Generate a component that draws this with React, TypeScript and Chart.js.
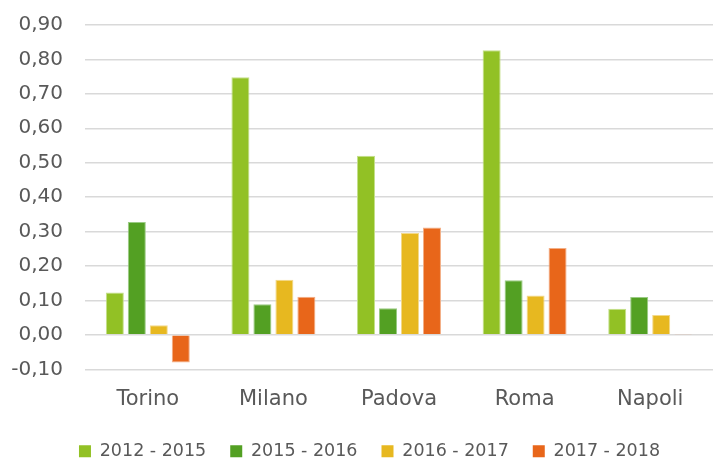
import React, { useEffect, useRef } from "react";
import { Chart, registerables } from "chart.js";

Chart.register(...registerables);

const categories = ["Torino", "Milano", "Padova", "Roma", "Napoli"];
const seriesLabels = ["2012 - 2015", "2015 - 2016", "2016 - 2017", "2017 - 2018"];
const s2012_2015 = [0.123, 0.748, 0.52, 0.827, 0.076];
const s2015_2016 = [0.328, 0.089, 0.077, 0.159, 0.11];
const s2016_2017 = [0.028, 0.16, 0.296, 0.114, 0.058];
const s2017_2018 = [-0.08, 0.111, 0.312, 0.252, 0.002];
const colors = ["#92C125", "#53A023", "#E7B820", "#E8661A"];
const borders = ["#C4E08A", "#9ACB84", "#F3D98A", "#F3AF86"];

export default function App() {
  const ref = useRef<HTMLCanvasElement>(null);
  useEffect(() => {
    document.body.style.margin = "0";
    const ctx = ref.current!;
    const font = "DejaVu Sans";
    const textColor = "#595959";
    const data = [s2012_2015, s2015_2016, s2016_2017, s2017_2018];
    const layoutTweak = {
      id: "layoutTweak",
      afterLayout(chart: any) {
        const lg = chart.legend;
        if (lg) {
          lg.top -= 12;
          lg.bottom -= 12;
          lg.left += 9;
          lg.right += 9;
        }
        const y = chart.scales.y;
        if (y) {
          y.left -= 9;
          y.right -= 9;
        }
      },
    };
    const chart = new Chart(ctx, {
      type: "bar",
      data: {
        labels: categories,
        datasets: data.map((d, i) => ({
          label: seriesLabels[i],
          data: d,
          backgroundColor: colors[i],
          borderColor: borders[i],
          borderWidth: 1,
          categoryPercentage: 0.7,
          barPercentage: 0.82,
        })),
      },
      plugins: [layoutTweak],
      options: {
        animation: false,
        responsive: false,
        layout: { padding: { top: 3, right: 0, left: 8, bottom: -22 } },
        plugins: {
          tooltip: { enabled: false },
          legend: {
            position: "bottom",
            labels: {
              boxWidth: 12,
              boxHeight: 12,
              padding: 24,
              color: textColor,
              font: { family: font, size: 17.5 },
              generateLabels: (c: any) =>
                seriesLabels.map((l, i) => ({
                  text: l,
                  fillStyle: colors[i],
                  strokeStyle: colors[i],
                  lineWidth: 0,
                  hidden: false,
                  datasetIndex: i,
                  fontColor: textColor,
                })),
            },
          },
        },
        scales: {
          x: {
            grid: { display: false, drawTicks: false },
            border: { display: false },
            ticks: { color: textColor, font: { family: font, size: 21 }, padding: 18 },
          },
          y: {
            min: -0.1,
            max: 0.9,
            afterFit: (s: any) => {
              s.width = 77;
            },
            ticks: {
              stepSize: 0.1,
              color: textColor,
              font: { family: font, size: 20 },
              padding: 13,
              callback: (v: any) => Number(v).toFixed(2).replace(".", ","),
            },
            grid: { color: "#D9D9D9", lineWidth: 1.5, drawTicks: false },
            border: { display: false },
          },
        },
      },
    });
    return () => chart.destroy();
  }, []);
  return <canvas ref={ref} width={713} height={460} />;
}
